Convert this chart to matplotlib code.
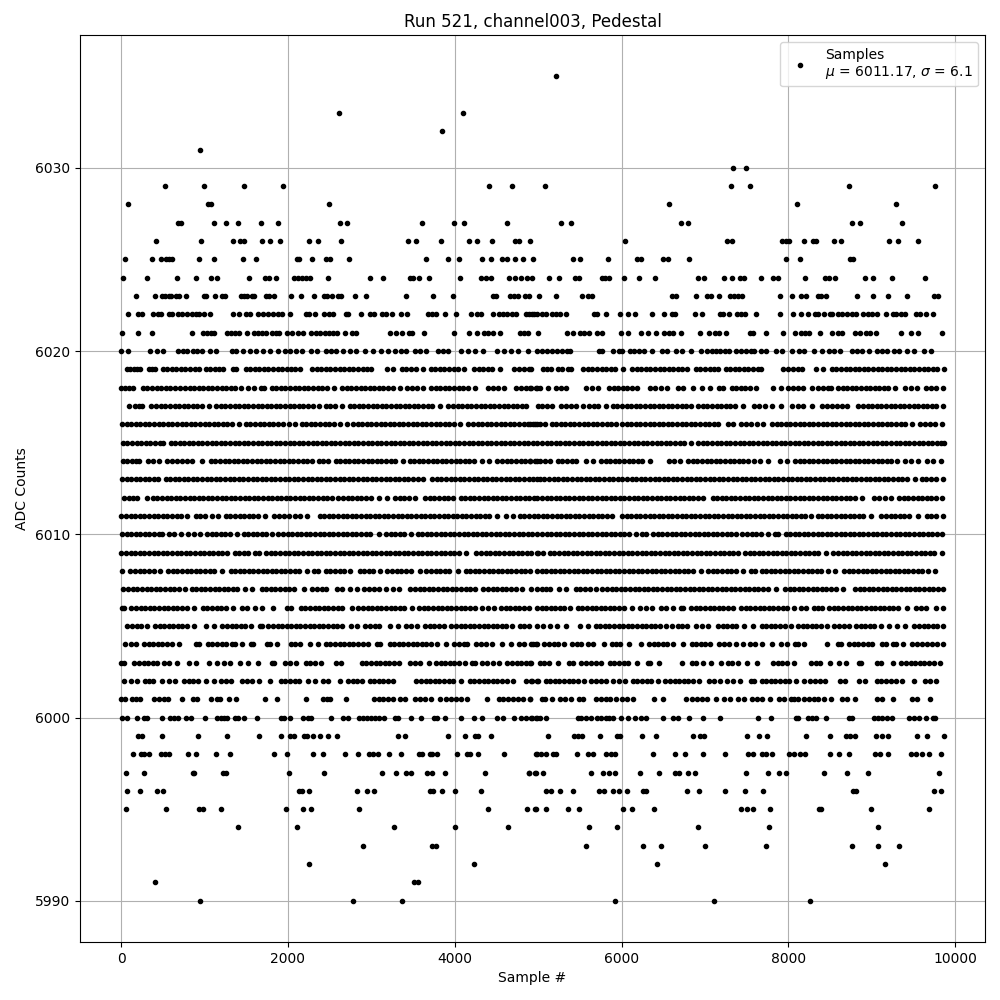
import numpy as np
import matplotlib
matplotlib.use('Agg')
import matplotlib.pyplot as plt

# sample numbers, one list per ADC level
s6035=[5216]
s6033=[2612,4100]
s6032=[3848]
s6031=[944]
s6030=[7340,7496]
s6029=[524,992,1472,1940,4412,4688,5084,7316,7544,8732,9752]
s6028=[80,1040,1076,2492,6572,8108,9296]
s6027=[676,712,1112,1256,1400,1676,1880,2624,2708,3608,3992,4112,4628,5276,5396,6716,6800,8768,8864,9368]
s6026=[416,956,1340,1424,1472,1688,1784,1904,2252,2360,2636,3440,3536,3836,4172,4268,4448,4724,4772,4904,6044,7268,7328,7928,7976,8012,8192,8300,8336,8552,8636,9212,9320,9548]
s6025=[44,368,476,536,572,608,932,1112,1460,1616,2108,2132,2288,2456,2504,2732,3656,3920,4052,4328,4436,4568,4628,4724,4820,4940,5420,5504,5840,6188,6236,6500,6560,6812,7976,8144,8744,8780]
s6024=[20,308,668,896,1076,1148,1532,1724,1772,1856,2072,2120,2168,2216,2264,2480,2984,3140,3464,3500,3572,3692,4064,4316,4376,4436,4652,4724,4796,4868,4928,5132,5252,5444,5492,5768,5804,5852,6032,6212,6404,6920,6992,7232,7328,7424,7472,7676,7820,7880,8204,8444,8492,8564,8924,9020,9248,9632]
s6023=[176,404,488,524,572,596,656,692,776,992,1016,1124,1208,1244,1436,1472,1508,1568,1592,1736,1772,1832,2036,2156,2312,2432,2468,2528,2600,2636,2804,2936,3416,3740,3980,4460,4496,4664,4712,4760,4844,4892,5012,5216,5528,5600,5648,6608,6656,6896,7028,7076,7172,7304,7352,7400,7448,7904,8048,8156,8216,8360,8396,8456,8828,9020,9200,9428,9740,9788]
s6022=[80,200,248,380,440,476,572,608,680,728,788,848,896,932,992,1064,1340,1412,1496,1544,1640,1700,1760,1820,1880,1928,2024,2220,2252,2324,2432,2492,2540,2696,2720,2876,2984,3032,3128,3176,3248,3356,3428,3680,3728,3776,3884,4016,4196,4268,4316,4460,4532,4580,4628,4688,4736,4856,4892,4952,4928,4988,5048,5088,5160,5208,5256,5336,5672,5704,5816,5984,6080,6164,6368,6512,6608,6644,6884,6968,7184,7220,7292,7388,7436,7484,7616,7904,8060,8156,8240,8324,8360,8432,8504,8528,8600,8648,8708,8768,8816,8900,8960,9008,9068,9172,9260,9296,9356,9404,9524,9572,9644,9728]
s6021=[8,200,368,848,980,1028,1076,1112,1268,1316,1364,1412,1508,1592,1640,1688,1736,1808,1856,1892,1988,2048,2120,2180,2276,2336,2384,2444,2492,2540,2588,2684,2768,2816,3224,3296,3368,3452,3488,3632,3992,4172,4268,4352,4400,4460,4544,4784,4832,4880,5000,5348,5420,5504,5552,5612,5708,5768,5996,6080,6236,6320,6416,6512,6572,6620,6716,6944,7048,7124,7172,7256,7544,7580,7736,7940,8084,8156,8204,8252,8384,8528,8600,8648,8804,8864,8936,8984,9056,9356,9464,9548,9836]
s6020=[0,80,348,428,500,680,740,788,860,908,968,1060,1132,1328,1380,1460,1540,1620,1700,1780,1880,1960,2020,2100,2168,2276,2348,2452,2520,2580,2660,2740,2820,2920,3020,3120,3200,3284,3360,3420,3520,3580,3660,3800,3860,3920,4080,4160,4240,4340,4508,4596,4680,4760,4880,4980,5050,5110,5170,5230,5290,5350,5380,5728,5760,5896,5968,6008,6100,6148,6208,6272,6368,6488,6548,6656,6728,6828,6948,7028,7080,7130,7180,7240,7288,7368,7428,7488,7548,7588,7668,7728,7848,7928,8048,8128,8188,8308,8408,8488,8548,8616,8768,8828,8888,8968,9068,9128,9188,9268,9328,9428,9508,9628,9708]
s6019=[70,110,150,190,225,340,375,410,500,550,605,660,715,770,825,880,930,1012,1065,1120,1170,1220,1340,1372,1492,1545,1600,1655,1710,1765,1820,1875,1930,1985,2040,2090,2140,2292,2345,2400,2455,2510,2565,2620,2675,2730,2785,2840,2895,2950,2990,3192,3260,3364,3420,3475,3530,3620,3712,3765,3820,3875,3930,3985,4040,4116,4232,4285,4340,4395,4450,4540,4712,4770,4825,4916,4892,5052,5108,5148,5232,5290,5360,5398,5540,5595,5650,5705,5760,5815,5870,5925,6012,6128,6180,6235,6290,6345,6400,6455,6510,6565,6620,6675,6730,6788,6888,6945,7000,7055,7110,7156,7248,7300,7355,7410,7465,7520,7575,7630,7676,7940,8000,8060,8120,8168,8328,8416,8520,8575,8630,8685,8740,8795,8850,8905,8960,9015,9070,9125,9180,9235,9290,9345,9400,9455,9510,9565,9620,9675,9730,9785,9864]
s6018=[4,50,100,148,260,315,370,425,480,535,590,645,700,760,820,875,930,985,1040,1095,1150,1205,1260,1315,1370,1440,1524,1590,1676,1710,1804,1860,1915,1970,2025,2080,2135,2190,2245,2300,2355,2410,2465,2548,2652,2705,2760,2815,2870,2925,2980,3035,3090,3145,3200,3255,3348,3428,3490,3550,3620,3712,3770,3825,3880,3935,3990,4045,4100,4155,4248,4404,4460,4520,4588,4732,4790,4850,4916,4970,4900,4980,5024,5120,5208,5270,5336,5568,5640,5716,5848,5905,5960,6015,6070,6125,6184,6344,6400,6470,6544,6680,6736,6860,6968,7060,7168,7216,7320,7375,7430,7485,7540,7616,7820,7916,8000,8060,8120,8176,8280,8350,8416,8480,8512,8592,8650,8705,8760,8815,8870,8925,8980,9035,9090,9145,9200,9276,9400,9470,9544,9648,9710,9768,9852]
s6017=[92,172,210,248,364,420,475,530,585,640,695,750,805,860,915,970,1048,1140,1195,1250,1305,1360,1415,1470,1525,1580,1635,1690,1745,1800,1855,1910,1965,2020,2075,2130,2185,2240,2295,2368,2452,2510,2570,2648,2740,2795,2850,2905,2960,3015,3070,3125,3180,3235,3290,3345,3400,3455,3510,3565,3620,3675,3730,3820,3924,3980,4035,4090,4145,4200,4255,4310,4365,4420,4475,4530,4585,4640,4695,4750,4805,4860,5000,5040,5100,5168,5272,5330,5390,5450,5536,5608,5665,5720,5808,5896,5950,6005,6060,6115,6170,6225,6280,6335,6390,6445,6500,6555,6610,6665,6720,6775,6836,6920,6975,7030,7085,7140,7195,7250,7305,7360,7456,7592,7650,7720,7808,7908,8048,8110,8170,8288,8400,8460,8520,8580,8640,8704,8840,8895,8950,9005,9060,9115,9170,9225,9280,9335,9390,9445,9500,9555,9610,9665,9720,9775,9848]
s6016=[12,65,120,175,230,285,340,395,450,505,560,615,670,725,780,835,890,945,1000,1055,1110,1165,1220,1275,1328,1412,1492,1550,1605,1660,1715,1770,1825,1880,1935,2008,2080,2164,2220,2275,2330,2385,2440,2495,2550,2628,2708,2780,2835,2890,2945,3000,3055,3110,3165,3220,3275,3330,3385,3440,3495,3550,3605,3660,3715,3770,3825,3880,3935,3990,4068,4164,4220,4275,4330,4385,4440,4495,4550,4605,4660,4715,4770,4825,4880,4935,4988,4900,4960,5020,5080,5160,5215,5270,5325,5380,5435,5490,5545,5600,5655,5710,5765,5820,5875,5928,6008,6060,6115,6170,6225,6280,6335,6390,6445,6500,6555,6610,6665,6720,6775,6830,6885,6940,6995,7050,7105,7156,7280,7336,7432,7490,7556,7628,7700,7808,7860,7915,7970,8025,8080,8135,8190,8245,8300,8355,8410,8465,8520,8575,8630,8685,8740,8795,8850,8905,8960,9015,9070,9125,9180,9235,9290,9345,9400,9476,9580,9640,9700,9760,9836]
s6015=[20,75,130,185,240,295,350,405,460,500,592,645,700,755,810,865,920,975,1030,1085,1140,1195,1250,1305,1360,1415,1470,1525,1580,1635,1690,1745,1800,1855,1910,1965,2020,2075,2130,2185,2240,2295,2350,2405,2460,2515,2570,2625,2680,2735,2790,2845,2900,2955,3010,3065,3120,3175,3230,3285,3340,3395,3450,3505,3560,3615,3670,3725,3780,3835,3890,3945,4000,4055,4110,4165,4220,4275,4330,4385,4440,4495,4550,4605,4660,4715,4770,4825,4880,4935,4988,5045,5100,5155,5210,5265,5320,5375,5430,5485,5540,5595,5650,5705,5760,5815,5870,5925,5980,6035,6090,6145,6200,6255,6310,6365,6420,6475,6530,6585,6640,6695,6750,6836,6920,6975,7030,7085,7140,7195,7250,7305,7360,7415,7470,7525,7580,7635,7690,7745,7800,7855,7910,7965,8020,8075,8130,8185,8240,8295,8350,8405,8460,8515,8570,8625,8680,8735,8790,8845,8900,8955,9010,9065,9120,9175,9230,9285,9340,9395,9450,9505,9560,9615,9670,9725,9780,9835,9864]
s6014=[20,70,125,175,220,324,385,448,552,610,670,730,790,848,972,1072,1130,1185,1240,1295,1350,1405,1460,1515,1570,1625,1680,1735,1790,1845,1900,1955,2010,2065,2120,2175,2230,2288,2372,2425,2476,2572,2625,2680,2735,2790,2845,2900,2955,3010,3065,3120,3175,3230,3285,3380,3460,3515,3570,3625,3680,3735,3790,3845,3900,3955,4010,4065,4120,4175,4230,4328,4408,4512,4570,4625,4680,4735,4790,4845,4900,4988,4900,4960,5020,5080,5140,5232,5290,5345,5400,5455,5568,5660,5752,5810,5865,5920,5975,6030,6085,6140,6195,6250,6344,6568,6630,6704,6800,6855,6910,6965,7020,7075,7130,7185,7240,7295,7350,7405,7460,7515,7588,7656,7760,7896,7988,8080,8135,8190,8245,8300,8355,8410,8465,8520,8575,8630,8685,8740,8795,8850,8905,8960,9015,9070,9125,9180,9235,9304,9400,9475,9556,9660,9736,9828]
s6013=[12,65,120,175,230,285,340,395,440,532,585,640,695,750,805,860,915,970,1025,1080,1135,1190,1245,1300,1355,1410,1465,1520,1575,1630,1685,1740,1795,1850,1905,1960,2015,2070,2125,2180,2235,2290,2345,2400,2455,2510,2565,2620,2675,2730,2785,2840,2895,2950,3005,3060,3115,3170,3225,3280,3335,3390,3445,3500,3555,3620,3732,3785,3840,3895,3950,4005,4060,4115,4170,4225,4280,4335,4390,4445,4500,4555,4610,4665,4720,4775,4830,4885,4940,4988,5020,5075,5130,5185,5240,5295,5350,5405,5460,5515,5570,5625,5680,5735,5790,5845,5900,5955,6010,6065,6120,6175,6230,6285,6340,6395,6450,6505,6560,6615,6670,6725,6780,6835,6890,6945,7000,7055,7110,7165,7220,7275,7330,7385,7440,7495,7550,7605,7660,7715,7770,7825,7880,7935,7990,8045,8100,8155,8210,8265,8320,8375,8430,8485,8540,8595,8650,8705,8760,8815,8870,8925,8980,9035,9090,9145,9200,9255,9310,9365,9420,9516,9600,9655,9710,9765,9848]
s6012=[36,90,140,188,308,380,435,490,545,600,655,710,765,820,875,930,985,1040,1095,1150,1205,1260,1315,1370,1425,1480,1535,1590,1645,1700,1755,1810,1865,1920,1975,2030,2085,2140,2195,2250,2305,2360,2415,2468,2532,2604,2660,2715,2770,2825,2880,2935,2990,3088,3188,3284,3340,3395,3450,3528,3644,3700,3755,3810,3865,3920,3980,4072,4125,4180,4235,4290,4345,4400,4455,4510,4565,4620,4675,4730,4785,4840,4895,4950,4988,5045,5100,5155,5210,5265,5320,5375,5430,5485,5540,5595,5650,5705,5760,5815,5870,5925,5980,6035,6090,6145,6200,6255,6310,6365,6420,6475,6530,6585,6640,6695,6750,6805,6860,6915,6976,7092,7145,7200,7255,7310,7365,7420,7475,7530,7585,7640,7695,7750,7805,7860,7915,7970,8025,8080,8135,8190,8245,8300,8355,8410,8465,8520,8575,8630,8685,8740,8795,8888,9028,9090,9160,9236,9328,9385,9440,9495,9550,9605,9660,9715,9770,9836]
s6011=[4,60,115,170,225,280,335,390,445,500,555,610,665,720,788,892,950,1010,1090,1160,1252,1310,1365,1420,1475,1530,1585,1640,1728,1828,1890,1950,2010,2080,2148,2232,2380,2435,2490,2545,2600,2655,2710,2765,2820,2875,2930,2985,3040,3095,3150,3205,3260,3315,3370,3425,3480,3535,3590,3645,3700,3755,3810,3865,3920,3975,4030,4085,4140,4195,4250,4305,4360,4415,4508,4612,4696,4780,4835,4890,4945,5000,5055,5110,5165,5220,5275,5330,5385,5440,5495,5550,5605,5660,5715,5770,5825,5888,6008,6060,6115,6170,6225,6280,6335,6390,6445,6500,6555,6610,6665,6720,6775,6830,6885,6940,6995,7050,7105,7160,7215,7270,7325,7380,7435,7490,7545,7600,7655,7710,7765,7820,7875,7930,7985,8040,8095,8150,8205,8276,8352,8405,8460,8515,8570,8625,8680,8735,8790,8845,8900,8996,9112,9170,9225,9280,9335,9390,9445,9556,9660,9715,9770,9848]
s6010=[12,65,120,175,230,285,340,395,450,488,572,630,716,804,870,948,1032,1085,1140,1195,1250,1305,1388,1468,1520,1575,1630,1685,1740,1808,1884,1940,1995,2050,2105,2160,2215,2270,2325,2380,2435,2490,2545,2600,2655,2710,2765,2820,2875,2930,2985,3088,3172,3230,3285,3340,3395,3476,3556,3610,3665,3720,3775,3830,3885,3940,3995,4050,4105,4160,4215,4270,4325,4380,4435,4490,4545,4600,4655,4710,4765,4820,4875,4930,4988,5045,5100,5155,5210,5265,5320,5375,5430,5485,5540,5595,5650,5705,5760,5815,5870,5925,5980,6035,6090,6168,6248,6296,6380,6435,6490,6545,6600,6655,6710,6765,6820,6875,6930,6985,7040,7095,7150,7205,7260,7315,7368,7448,7505,7560,7615,7670,7756,7840,7876,7968,8020,8075,8130,8185,8240,8295,8350,8405,8460,8515,8570,8625,8680,8735,8790,8845,8900,8955,9010,9065,9120,9175,9230,9285,9340,9395,9450,9505,9560,9615,9670,9725,9780,9836]
s6009=[4,60,115,170,225,280,335,390,445,500,555,610,665,720,775,830,885,940,995,1050,1105,1160,1215,1268,1360,1415,1470,1525,1600,1656,1740,1795,1850,1905,1960,2015,2070,2125,2180,2235,2290,2345,2400,2455,2510,2565,2620,2675,2730,2785,2840,2895,2950,3005,3060,3115,3170,3225,3280,3335,3390,3445,3500,3555,3610,3665,3720,3775,3830,3885,3940,3995,4048,4140,4260,4315,4370,4425,4480,4535,4590,4645,4700,4755,4810,4865,4920,4988,5000,5056,5140,5195,5250,5305,5360,5415,5470,5525,5580,5635,5690,5745,5800,5855,5910,5965,6020,6075,6130,6185,6240,6295,6350,6405,6460,6515,6570,6625,6680,6735,6790,6845,6900,6955,7010,7065,7120,7175,7230,7285,7340,7396,7480,7535,7590,7645,7700,7755,7810,7865,7920,7975,8030,8085,8140,8195,8250,8305,8360,8456,8540,8595,8650,8705,8760,8815,8870,8925,8980,9035,9090,9145,9200,9255,9310,9365,9420,9475,9530,9585,9640,9695,9750,9836]
s6008=[12,112,170,225,280,335,400,468,564,620,675,730,785,840,895,950,1005,1060,1115,1208,1312,1365,1420,1475,1530,1585,1640,1695,1750,1805,1860,1915,1970,2025,2080,2135,2228,2312,2356,2452,2510,2565,2620,2675,2748,2860,2915,2970,3025,3108,3192,3250,3305,3360,3415,3470,3580,3660,3715,3770,3825,3880,3935,4036,4132,4185,4240,4295,4350,4405,4460,4515,4570,4625,4680,4735,4790,4845,4900,4988,5040,5095,5150,5205,5260,5315,5370,5425,5480,5535,5590,5645,5700,5755,5810,5865,5920,5975,6030,6085,6140,6195,6250,6305,6360,6415,6470,6525,6580,6635,6690,6745,6800,6855,6956,7040,7095,7150,7205,7260,7315,7370,7456,7552,7596,7680,7735,7790,7845,7900,7955,8010,8065,8120,8175,8230,8285,8340,8395,8476,8560,8672,8725,8780,8835,8890,8945,9000,9055,9110,9165,9220,9275,9330,9385,9440,9495,9550,9605,9676,9752]
s6007=[28,85,140,195,250,305,360,415,470,525,580,635,690,768,844,900,955,1010,1065,1120,1175,1230,1285,1340,1395,1488,1572,1684,1740,1795,1850,1905,1960,2015,2070,2188,2292,2350,2405,2456,2592,2650,2740,2832,2912,2970,3030,3088,3180,3255,3332,3468,3525,3580,3635,3690,3745,3800,3855,3910,3965,4020,4075,4130,4185,4248,4344,4400,4455,4510,4565,4620,4675,4730,4808,4912,4988,5040,5095,5144,5248,5328,5448,5505,5560,5625,5688,5768,5825,5880,5935,5990,6045,6100,6155,6210,6265,6320,6375,6430,6485,6540,6595,6650,6705,6760,6815,6870,6925,6980,7035,7090,7145,7200,7255,7310,7365,7420,7475,7530,7585,7640,7695,7750,7856,7960,8015,8070,8125,8180,8235,8290,8345,8400,8455,8510,8565,8656,8800,8855,8910,8965,9020,9075,9130,9185,9240,9295,9350,9405,9460,9515,9570,9625,9680,9735,9790,9856]
s6006=[12,36,124,180,235,290,345,400,455,510,565,620,675,730,785,876,980,1035,1090,1145,1200,1255,1340,1452,1508,1600,1688,1816,1984,2040,2152,2210,2265,2320,2375,2430,2485,2540,2595,2650,2768,2844,2900,2955,3010,3065,3120,3175,3230,3285,3340,3395,3488,3572,3630,3685,3740,3795,3850,3905,3960,4015,4070,4125,4180,4248,4332,4400,4468,4552,4610,4665,4720,4775,4830,4885,4988,5040,5095,5150,5205,5260,5315,5384,5472,5530,5585,5640,5695,5750,5805,5860,5915,5970,6025,6128,6220,6290,6368,6468,6530,6616,6712,6736,6832,6890,6945,7000,7055,7110,7165,7220,7275,7336,7432,7490,7545,7600,7655,7710,7765,7820,7875,7930,7985,8068,8152,8216,8312,8360,8408,8488,8545,8600,8655,8710,8765,8820,8875,8930,8985,9040,9095,9150,9205,9260,9315,9428,9528,9590,9650,9768,9852]
s6005=[72,130,185,240,316,404,460,515,570,625,680,735,790,868,1020,1108,1212,1270,1325,1380,1435,1490,1556,1660,1684,1764,1820,1875,1930,1985,2040,2095,2150,2205,2260,2315,2370,2425,2480,2535,2590,2648,2752,2828,2920,2980,3040,3088,3220,3316,3412,3480,3548,3644,3700,3755,3810,3868,3960,4015,4070,4125,4180,4235,4290,4345,4400,4455,4510,4565,4620,4688,4780,4835,4890,4988,5056,5140,5224,5328,5500,5596,5688,5745,5800,5855,5910,5965,6020,6075,6130,6185,6240,6295,6350,6405,6460,6536,6600,6672,6730,6790,6888,6960,7040,7152,7210,7265,7320,7375,7468,7580,7680,7735,7790,7845,7900,7955,8036,8112,8170,8225,8280,8335,8390,8468,8552,8610,8665,8728,8808,8865,8920,8975,9030,9108,9212,9300,9404,9508,9565,9620,9675,9730,9785,9848]
s6004=[52,115,180,272,330,385,440,495,550,605,688,892,928,1040,1095,1150,1205,1260,1328,1368,1448,1552,1580,1752,1788,1872,2032,2090,2148,2260,2356,2452,2510,2565,2620,2675,2730,2785,2840,2895,2956,3072,3100,3220,3275,3330,3385,3440,3495,3550,3605,3660,3715,3788,3892,3992,4050,4105,4148,4252,4310,4376,4448,4564,4676,4772,4836,4932,4988,4920,4976,5072,5130,5185,5240,5308,5408,5470,5516,5596,5660,5788,5880,5930,5984,6088,6236,6328,6385,6440,6495,6550,6616,6732,6840,6895,6950,7005,7064,7168,7230,7288,7376,7460,7540,7600,7688,7808,7912,7984,8080,8120,8192,8468,8592,8636,8728,8785,8840,8895,8950,9008,9128,9176,9260,9288,9376,9480,9540,9600,9660,9720,9780,9848]
s6003=[4,36,160,215,270,325,380,428,512,572,668,812,892,1048,1152,1236,1304,1424,1520,1640,1804,1828,1960,2030,2092,2212,2270,2328,2396,2572,2636,2884,2940,2995,3050,3105,3160,3215,3270,3328,3460,3525,3588,3692,3772,3830,3885,3940,3995,4050,4128,4204,4248,4332,4388,4464,4536,4632,4690,4745,4800,4855,4916,4908,5020,5075,5130,5236,5368,5416,5512,5570,5630,5690,5756,5860,5915,5970,6025,6080,6184,6320,6344,6452,6720,6840,6896,6980,7076,7196,7280,7324,7396,7500,7628,7812,7870,7925,7980,8068,8272,8325,8376,8496,8608,8696,8848,8876,9060,9116,9260,9352,9410,9465,9520,9575,9630,9685,9740,9816]
s6002=[32,124,188,292,335,380,488,572,648,756,810,865,920,1020,1112,1192,1255,1316,1444,1510,1568,1652,1780,1912,1970,2025,2080,2135,2240,2324,2420,2480,2624,2716,2775,2830,2888,2980,3035,3090,3145,3200,3260,3540,3595,3650,3705,3760,3815,3870,3925,3980,4076,4180,4235,4290,4345,4400,4455,4510,4565,4628,4704,4860,4925,4988,4920,4996,5088,5145,5200,5255,5310,5365,5420,5475,5544,5632,5690,5750,5816,5900,5965,6036,6132,6190,6245,6300,6355,6436,6520,6580,6635,6690,6745,6800,6856,6932,7048,7110,7176,7264,7330,7416,7552,7584,7680,7735,7790,7845,7900,7955,8010,8096,8184,8260,8320,8380,8444,8620,8676,8848,8916,9060,9115,9170,9225,9296,9368,9500,9640,9700,9768]
s6001=[0,44,128,176,224,392,452,512,560,728,860,908,1076,1148,1184,1292,1376,1724,1868,2216,2420,2468,2500,2696,3032,3092,3140,3200,3260,3344,3404,3524,3584,3644,3716,3824,3896,3956,4016,4076,4148,4388,4532,4580,4640,4700,4760,4820,4904,4900,5040,5084,5168,5256,5320,5392,5488,5540,5696,5748,5808,5856,5936,6008,6068,6140,6392,6500,6776,6840,6900,6968,7028,7128,7232,7304,7400,7468,7560,7628,7688,7776,7888,7950,8028,8068,8120,8192,8250,8305,8360,8428,8508,8648,8708,8796,9068,9120,9256,9476,9536,9692]
s6000=[8,68,188,272,308,488,584,632,680,776,836,1004,1148,1196,1232,1268,1364,1400,1472,1628,1916,1952,2024,2180,2240,2276,2516,2660,2720,2852,2900,2948,2996,3044,3092,3152,3284,3320,3476,3596,3752,3788,3884,4076,4232,4328,4508,4580,4712,4796,4856,4928,4988,4920,4968,5016,5088,5472,5508,5568,5628,5704,5748,5808,5848,5900,5996,6080,6164,6228,6296,6500,6620,6680,6804,6980,7184,7640,7796,8096,8120,8240,8288,8336,8456,8732,8768,9032,9080,9128,9188,9248,9452,9500,9560,9644,9728,9752]
s5999=[200,248,488,920,1268,1652,1916,2024,2072,2192,2228,2300,2384,2480,2588,3320,3404,3920,4124,4244,4280,4436,5120,5432,5480,5528,5744,5948,5984,6248,6416,6860,6944,6992,7508,7652,7748,8216,8504,8696,8744,8804,9056,9128,9200,9536,9656,9860]
s5998=[140,236,272,332,476,524,572,800,896,1136,1304,1832,1988,2300,2420,2684,2840,2972,3020,3080,3212,3356,3572,3608,3704,3728,3788,4028,4148,4184,4280,4592,4988,4976,5028,5088,5180,5216,5468,5600,5660,5816,5876,5924,6380,6644,6764,6980,7244,7520,7580,7688,7736,7808,8012,8072,8144,8204,8504,8612,8724,9044,9104,9200,9464,9528,9596,9680,9824]
s5997=[56,272,860,872,1220,1256,2012,2432,3128,3296,3416,3476,3668,3728,3884,4364,4892,4976,4888,4964,5060,5636,5780,5852,5924,6224,6452,6644,6692,6800,6884,7496,7760,7892,7976,8432,8708,8960,9800]
s5996=[68,224,428,500,2132,2168,2252,2828,2948,3032,3704,3740,3848,4004,4316,5096,5156,5264,5420,5732,5792,5900,5972,6068,6260,6296,6788,6932,7244,7484,7700,8780,8816,9740,9824]
s5995=[56,536,932,980,1196,1976,2180,2276,2852,4400,4868,4976,4964,5096,5360,5492,6020,6128,6392,7436,7508,7580,7784,8372,8388,8996,9680]
s5994=[1400,2108,3272,4004,4640,5612,5948,6920,7772,9080]
s5993=[2900,3728,3776,5576,6260,6476,7004,7736,8768,9080,9332]
s5992=[2252,4232,6428,9164]
s5991=[404,3512,3560]
s5990=[944,2780,3368,5924,7112,8264]

levels=[6035,6033,6032,6031,6030,6029,6028,6027,6026,6025,6024,6023,6022,6021,6020,6019,6018,6017,6016,6015,6014,6013,6012,6011,6010,6009,6008,6007,6006,6005,6004,6003,6002,6001,6000,5999,5998,5997,5996,5995,5994,5993,5992,5991,5990]
rows=[s6035,s6033,s6032,s6031,s6030,s6029,s6028,s6027,s6026,s6025,s6024,s6023,s6022,s6021,s6020,s6019,s6018,s6017,s6016,s6015,s6014,s6013,s6012,s6011,s6010,s6009,s6008,s6007,s6006,s6005,s6004,s6003,s6002,s6001,s6000,s5999,s5998,s5997,s5996,s5995,s5994,s5993,s5992,s5991,s5990]

x=np.concatenate([np.array(r) for r in rows])
y=np.concatenate([np.full(len(r),l) for r,l in zip(rows,levels)])

fig,ax=plt.subplots(figsize=(10,10),dpi=100)
ax.plot(x,y,'k.',label='Samples\n$\\mu$ = 6011.17, $\\sigma$ = 6.1')
ax.set_title('Run 521, channel003, Pedestal')
ax.set_xlabel('Sample #')
ax.set_ylabel('ADC Counts')
ax.grid(True)
ax.legend(loc='upper right')
ax.ticklabel_format(useOffset=False,style='plain',axis='y')
fig.subplots_adjust(left=0.080,right=0.985,top=0.965,bottom=0.058)
plt.savefig('out.png')
